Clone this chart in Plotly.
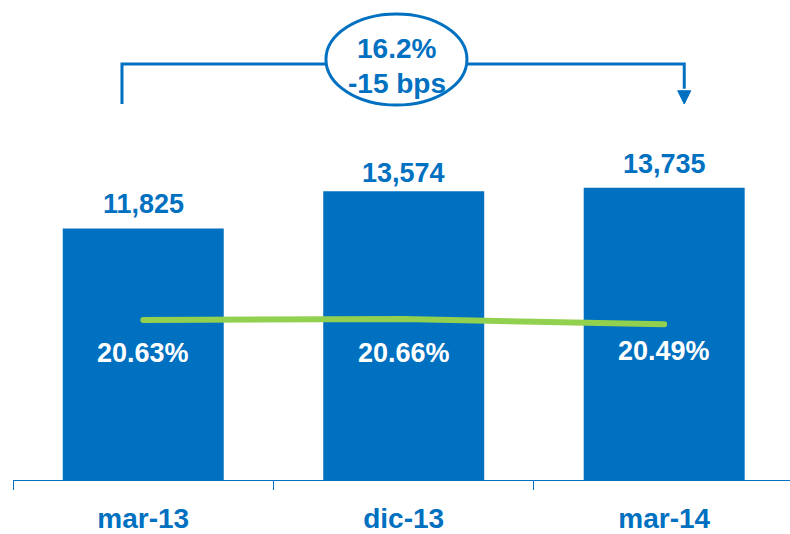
import plotly.graph_objects as go

categories = ["mar-13", "dic-13", "mar-14"]
bar_values = [11825, 13574, 13735]
bar_labels = ["11,825", "13,574", "13,735"]
ratio_values = [20.63, 20.66, 20.49]
ratio_labels = ["20.63%", "20.66%", "20.49%"]
bubble_text = ["16.2%", "-15 bps"]

BLUE = "#0070C0"
GREEN = "#92D050"
FONT = "Liberation Sans, Arial, sans-serif"

value_shift = [24, 18, 24]
ratio_shift = [-33, -34, -27]

fig = go.Figure()
fig.add_trace(go.Bar(x=categories, y=bar_values, marker=dict(color=BLUE, line=dict(width=0)),
                     hoverinfo="skip", showlegend=False))
fig.add_trace(go.Scatter(x=categories, y=ratio_values, yaxis="y2", mode="lines",
                         line=dict(color=GREEN, width=6), showlegend=False, hoverinfo="skip"))

for c, v, t, s in zip(categories, bar_values, bar_labels, value_shift):
    fig.add_annotation(x=c, y=v, xref="x", yref="y", text=f"<b>{t}</b>", showarrow=False,
                       yshift=s, yanchor="middle",
                       font=dict(family=FONT, size=27, color=BLUE))
for c, v, t, s in zip(categories, ratio_values, ratio_labels, ratio_shift):
    fig.add_annotation(x=c, y=v, xref="x", yref="y2", text=f"<b>{t}</b>", showarrow=False,
                       yshift=s, yanchor="middle",
                       font=dict(family=FONT, size=27, color="white"))

# bracket
fig.add_shape(type="path", xref="x", yref="paper",
              path="M -0.0816,0.7833 L -0.0816,0.8667 L 2.077,0.8667 L 2.077,0.815",
              line=dict(color=BLUE, width=3))
fig.add_shape(type="path", xref="x", yref="paper",
              path="M 2.052,0.811 L 2.102,0.811 L 2.077,0.7833 Z",
              line=dict(color=BLUE, width=1), fillcolor=BLUE)
fig.add_shape(type="circle", xref="x", yref="paper", x0=0.7015, x1=1.2428, y0=0.78125, y1=0.9708,
              line=dict(color=BLUE, width=3), fillcolor="white")
for txt, yp in zip(bubble_text, [0.898, 0.827]):
    fig.add_annotation(x=0.974, y=yp, xref="x", yref="paper", yanchor="middle",
                       text=f"<b>{txt}</b>", showarrow=False,
                       font=dict(family=FONT, size=28, color=BLUE))

fig.update_layout(
    width=790, height=534,
    margin=dict(l=13, r=0, t=0, b=54),
    plot_bgcolor="white", paper_bgcolor="white",
    bargap=0.382,
    xaxis=dict(type="category", range=[-0.5, 2.483], showline=True, linecolor=BLUE, linewidth=1,
               ticks="outside", tickson="boundaries", ticklen=9, tickcolor=BLUE, tickwidth=1,
               showgrid=False, zeroline=False, ticklabelstandoff=13,
               tickfont=dict(family=FONT, size=28, color=BLUE, weight="bold")),
    yaxis=dict(range=[0, 22560], visible=False, showgrid=False, zeroline=False),
    yaxis2=dict(range=[15.42, 31.05], overlaying="y", visible=False, showgrid=False, zeroline=False),
)

fig.write_html(
    "out.html",
    config={"displayModeBar": False},
    post_script=(
        "document.body.style.margin='0';"
        "document.querySelectorAll('.scatterlayer .js-line').forEach(function(p){"
        "p.style.strokeLinecap='round';});"
    ),
)
